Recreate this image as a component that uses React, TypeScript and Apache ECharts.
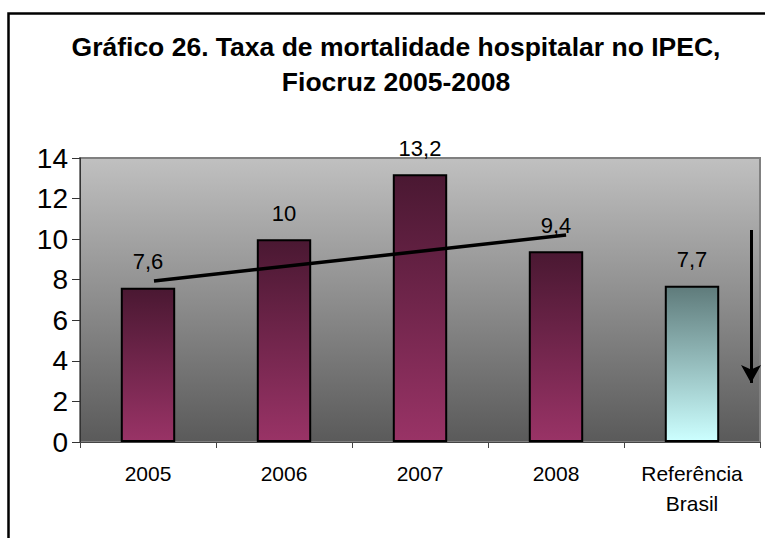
import React, { useEffect, useRef } from "react";
import * as echarts from "echarts";

const categories = ["2005", "2006", "2007", "2008", "Referência\nBrasil"];
const values = [7.6, 10, 13.2, 9.4, 7.7];
const yTicks = { min: 0, max: 14, interval: 2 };
// hand-drawn trend line (position on a 0..5 category-width scale, value)
const trendX = [0.544, 3.574];
const trendY = [7.94, 10.2];
// downward arrow next to the reference bar
const arrowX = 4.934;
const arrowFrom = 10.45;
const arrowTo = 2.91;

const FONT = "'Liberation Sans', Arial, sans-serif";

export default function App() {
  const ref = useRef<HTMLDivElement>(null);
  useEffect(() => {
    if (!ref.current) return;
    const chart = echarts.init(ref.current, null, { renderer: "svg" });
    const maroon = new echarts.graphic.LinearGradient(0, 0, 0, 1, [
      { offset: 0, color: "#4a1832" },
      { offset: 1, color: "#993366" },
    ]);
    const teal = new echarts.graphic.LinearGradient(0, 0, 0, 1, [
      { offset: 0, color: "#5f7b7b" },
      { offset: 1, color: "#ccffff" },
    ]);
    chart.setOption({
      animation: false,
      textStyle: { fontFamily: FONT },
      title: {
        text: "Gráfico 26. Taxa de mortalidade hospitalar no IPEC,\nFiocruz 2005-2008",
        left: 396,
        top: 29,
        padding: 0,
        textAlign: "center",
        textStyle: {
          fontFamily: FONT,
          fontSize: 26.5,
          fontWeight: "bold",
          lineHeight: 35,
          color: "#000",
        },
      },
      graphic: [
        {
          type: "rect",
          shape: { x: 8.5, y: 13.5, width: 800, height: 600 },
          style: { fill: "none", stroke: "#000", lineWidth: 2.5 },
          silent: true,
          z: 100,
        },
      ],
      grid: {
        left: 80,
        right: 5,
        top: 158,
        bottom: 96,
        show: true,
        borderColor: "#808080",
        borderWidth: 2,
        backgroundColor: new echarts.graphic.LinearGradient(0, 0, 0, 1, [
          { offset: 0, color: "#c0c0c0" },
          { offset: 1, color: "#5a5a5a" },
        ]),
      },
      xAxis: [
        {
          type: "category",
          data: categories,
          axisLine: { show: true, lineStyle: { color: "#444", width: 1 } },
          axisTick: { show: true, alignWithLabel: false, length: 6, lineStyle: { color: "#444" } },
          axisLabel: {
            color: "#000",
            fontFamily: FONT,
            fontSize: 21,
            lineHeight: 30,
            margin: 16,
          },
          splitLine: { show: false },
        },
        {
          type: "value",
          min: 0,
          max: 5,
          show: false,
        },
      ],
      yAxis: {
        type: "value",
        min: yTicks.min,
        max: yTicks.max,
        interval: yTicks.interval,
        axisLine: { show: true, lineStyle: { color: "#333", width: 1 } },
        axisTick: { show: true, length: 8, lineStyle: { color: "#333" } },
        axisLabel: {
          color: "#000",
          fontFamily: FONT,
          fontSize: 28,
          margin: 12,
          padding: [7, 0, 0, 0],
        },
        splitLine: { show: false },
      },
      series: [
        {
          type: "bar",
          barWidth: "40%",
          xAxisIndex: 0,
          data: values.map((v, i) => ({
            value: v,
            itemStyle: {
              color: i === values.length - 1 ? teal : maroon,
              borderColor: "#000",
              borderWidth: 2,
            },
          })),
          label: {
            show: true,
            position: "top",
            distance: 15,
            color: "#000",
            fontFamily: FONT,
            fontSize: 22,
            formatter: (p: any) => String(p.value).replace(".", ","),
          },
        },
        {
          type: "line",
          xAxisIndex: 1,
          yAxisIndex: 0,
          data: trendX.map((x, i) => [x, trendY[i]]),
          showSymbol: false,
          symbol: "none",
          lineStyle: { color: "#000", width: 3.5 },
          z: 5,
          silent: true,
          markLine: {
            silent: true,
            symbol: ["none", "arrow"],
            symbolSize: [15, 18],
            label: { show: false },
            lineStyle: { color: "#000", width: 3, type: "solid" },
            data: [[{ coord: [arrowX, arrowFrom] }, { coord: [arrowX, arrowTo] }]],
          },
        },
      ],
    });
    return () => chart.dispose();
  }, []);
  return (
    <div
      ref={ref}
      style={{ position: "fixed", left: 0, top: 0, width: 765, height: 538, background: "#fff" }}
    />
  );
}
